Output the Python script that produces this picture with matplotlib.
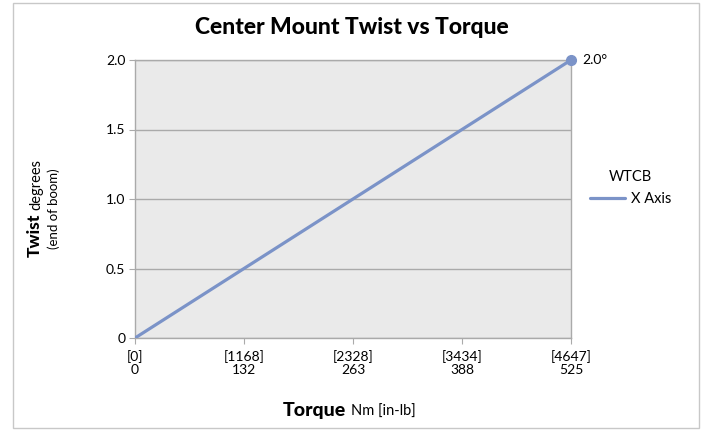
import numpy as np
import matplotlib.pyplot as plt
from matplotlib.patches import Rectangle

plt.rcParams['font.family'] = ['Lato', 'DejaVu Sans']

# data
torque_nm = ['0', '132', '263', '388', '525']
torque_inlb = ['0', '1168', '2328', '3434', '4647']
twist_deg = [0.0, 0.5, 1.0, 1.5, 2.0]
y_ticks = [0, 0.5, 1.0, 1.5, 2.0]
y_tick_labels = ['0', '0.5', '1.0', '1.5', '2.0']
series_name = 'X Axis'
legend_title = 'WTCB'

line_color = '#7B93C8'
grid_color = '#AAAAAA'

W, H = 708, 432
fig = plt.figure(figsize=(W / 100, H / 100), dpi=100)
renderer = fig.canvas.get_renderer()

# outer chart border
fig.patches.append(Rectangle((13 / W, 1 - 428 / H), (699 - 13) / W, (428 - 3) / H,
                             transform=fig.transFigure, fill=False,
                             edgecolor='#C8C8C8', linewidth=1.0))

ax = fig.add_axes([135 / W, 1 - 338 / H, (571 - 135) / W, (338 - 60) / H])
ax.set_facecolor('#EAEAEA')

x = np.arange(len(torque_nm))
ax.plot(x, twist_deg, color=line_color, linewidth=2.3, label=series_name,
        solid_capstyle='round', zorder=3)
ax.plot(x[-1], twist_deg[-1], 'o', color=line_color, markersize=7,
        clip_on=False, zorder=4)
ax.annotate(f'{twist_deg[-1]:.1f}°', (x[-1], twist_deg[-1]), xytext=(8, 0),
            textcoords='offset points', va='center', ha='left', fontsize=10)

ax.set_xlim(0, len(torque_nm) - 1)
ax.set_ylim(0, 2.0)
ax.set_yticks(y_ticks)
ax.set_yticklabels(y_tick_labels, fontsize=10)
ax.set_xticks(x)
ax.set_xticklabels([f'[{a}]\n{b}' for a, b in zip(torque_inlb, torque_nm)],
                   fontsize=10, linespacing=1.1)
ax.tick_params(axis='y', length=4, color=grid_color, pad=3)
ax.tick_params(axis='x', length=4, color=grid_color, pad=5)
ax.yaxis.grid(True, color=grid_color, linewidth=1.0)
ax.set_axisbelow(True)
for s in ax.spines.values():
    s.set_color(grid_color)
    s.set_linewidth(1.0)

fig.text(352 / W, 1 - 28 / H, 'Center Mount Twist vs Torque',
         ha='center', va='center', fontsize=16.5, fontweight='black')

# y axis label: bold word and small unit share one baseline
t1 = fig.text(40 / W, 1 - 257 / H, 'Twist', rotation=90, rotation_mode='anchor',
              ha='left', va='baseline', fontsize=12.5, fontweight='black')
bb = t1.get_window_extent(renderer)
fig.text(40 / W, (bb.y1 + 4) / H, 'degrees', rotation=90, rotation_mode='anchor',
         ha='left', va='baseline', fontsize=10.5)
fig.text(54 / W, 1 - 209 / H, '(end of boom)', rotation=90, ha='center',
         va='center', fontsize=9.5)

# x axis label
t2 = fig.text(283 / W, 1 - 416 / H, 'Torque', ha='left', va='baseline',
              fontsize=14, fontweight='black')
bb = t2.get_window_extent(renderer)
fig.text((bb.x1 + 5) / W, 1 - 416 / H, 'Nm [in-lb]', ha='left', va='baseline',
         fontsize=10.5)

fig.legend(loc='center left', bbox_to_anchor=(577 / W, 1 - 188 / H),
           title=legend_title, frameon=False, fontsize=10.5,
           title_fontsize=10.5, handlelength=2.4, handletextpad=0.4)

fig.savefig('out.png', dpi=100)
